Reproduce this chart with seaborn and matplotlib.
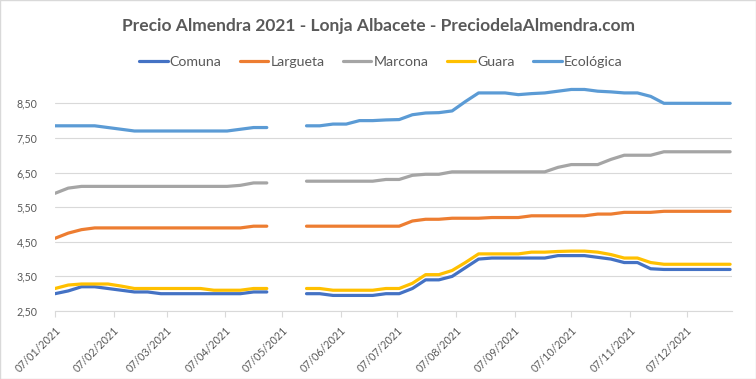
import matplotlib
matplotlib.use("Agg")
import matplotlib.dates as mdates
import matplotlib.pyplot as plt
import numpy as np
import pandas as pd
import seaborn as sns
from matplotlib.patches import Rectangle
from matplotlib.ticker import FuncFormatter

# weekly prices (Thursdays), 6 and 13 May have no quote
fechas = pd.date_range("2021-01-07", "2021-12-30", freq="7D")

comuna = [3.00, 3.08, 3.20, 3.20, 3.15, 3.10, 3.05, 3.05, 3.00, 3.00, 3.00, 3.00, 3.00, 3.00, 3.00, 3.05, 3.05,
          None, None,
          3.00, 3.00, 2.95, 2.95, 2.95, 2.95, 3.00, 3.00, 3.15, 3.40, 3.40, 3.50, 3.75, 4.00, 4.03, 4.03, 4.03,
          4.03, 4.03, 4.10, 4.10, 4.10, 4.05, 4.00, 3.90, 3.90, 3.72, 3.70, 3.70, 3.70, 3.70, 3.70, 3.70]
largueta = [4.60, 4.75, 4.85, 4.90, 4.90, 4.90, 4.90, 4.90, 4.90, 4.90, 4.90, 4.90, 4.90, 4.90, 4.90, 4.95, 4.95,
            None, None,
            4.95, 4.95, 4.95, 4.95, 4.95, 4.95, 4.95, 4.95, 5.10, 5.15, 5.15, 5.18, 5.18, 5.18, 5.20, 5.20, 5.20,
            5.25, 5.25, 5.25, 5.25, 5.25, 5.30, 5.30, 5.35, 5.35, 5.35, 5.38, 5.38, 5.38, 5.38, 5.38, 5.38]
marcona = [5.90, 6.05, 6.10, 6.10, 6.10, 6.10, 6.10, 6.10, 6.10, 6.10, 6.10, 6.10, 6.10, 6.10, 6.13, 6.20, 6.20,
           None, None,
           6.25, 6.25, 6.25, 6.25, 6.25, 6.25, 6.30, 6.30, 6.42, 6.45, 6.45, 6.52, 6.52, 6.52, 6.52, 6.52, 6.52,
           6.52, 6.52, 6.65, 6.73, 6.73, 6.73, 6.88, 7.00, 7.00, 7.00, 7.10, 7.10, 7.10, 7.10, 7.10, 7.10]
guara = [3.15, 3.25, 3.28, 3.28, 3.28, 3.22, 3.15, 3.15, 3.15, 3.15, 3.15, 3.15, 3.10, 3.10, 3.10, 3.15, 3.15,
         None, None,
         3.15, 3.15, 3.10, 3.10, 3.10, 3.10, 3.15, 3.15, 3.30, 3.55, 3.55, 3.67, 3.90, 4.15, 4.15, 4.15, 4.15,
         4.20, 4.20, 4.22, 4.23, 4.23, 4.20, 4.13, 4.03, 4.03, 3.90, 3.85, 3.85, 3.85, 3.85, 3.85, 3.85]
ecologica = [7.85, 7.85, 7.85, 7.85, 7.80, 7.75, 7.70, 7.70, 7.70, 7.70, 7.70, 7.70, 7.70, 7.70, 7.75, 7.80, 7.80,
             None, None,
             7.85, 7.85, 7.90, 7.90, 8.00, 8.00, 8.02, 8.03, 8.17, 8.22, 8.23, 8.28, 8.55, 8.80, 8.80, 8.80, 8.75,
             8.78, 8.80, 8.85, 8.90, 8.90, 8.85, 8.83, 8.80, 8.80, 8.70, 8.50, 8.50, 8.50, 8.50, 8.50, 8.50]

variedades = ["Comuna", "Largueta", "Marcona", "Guara", "Ecológica"]
colores = ["#4472C4", "#ED7D31", "#A5A5A5", "#FFC000", "#5B9BD5"]

wide = pd.DataFrame({"Fecha": fechas, "Comuna": comuna, "Largueta": largueta, "Marcona": marcona,
                     "Guara": guara, "Ecológica": ecologica})
df = wide.melt(id_vars="Fecha", var_name="Variedad", value_name="Precio")
df["Precio"] = df["Precio"].astype(float)
# split into two runs so the line breaks at the missing weeks
df["tramo"] = np.where(df["Fecha"] > pd.Timestamp("2021-05-01"), 1, 0)
df = df.dropna()

sns.set_style("white")
plt.rcParams["font.family"] = ["Lato", "DejaVu Sans"]

fig = plt.figure(figsize=(7.56, 3.79), dpi=100)
ax = fig.add_axes([55 / 756, 1 - 311 / 379, (732 - 55) / 756, (311 - 86) / 379])

sns.lineplot(data=df, x="Fecha", y="Precio", hue="Variedad", units="tramo", estimator=None,
             hue_order=variedades, palette=dict(zip(variedades, colores)),
             linewidth=2.3, ax=ax)

ax.set_ylim(2.5, 9.0)
ax.set_yticks(np.arange(2.5, 8.6, 1.0))
ax.yaxis.set_major_formatter(FuncFormatter(lambda v, p: f"{v:.2f}".replace(".", ",")))
ax.set_xlim(pd.Timestamp("2021-01-07"), pd.Timestamp("2021-12-31"))
ax.xaxis.set_major_locator(mdates.DayLocator(bymonthday=7))
ax.xaxis.set_major_formatter(mdates.DateFormatter("%d/%m/%Y"))

ax.grid(axis="y", color="#D9D9D9", linewidth=0.8)
ax.set_axisbelow(True)
for s in ["top", "right", "left"]:
    ax.spines[s].set_visible(False)
ax.spines["bottom"].set_color("#D9D9D9")
ax.spines["bottom"].set_linewidth(0.8)
ax.tick_params(axis="x", bottom=True, length=4, width=0.8, color="#D9D9D9", pad=6,
               labelsize=7.7, labelcolor="#595959")
ax.tick_params(axis="y", left=False, pad=9, labelsize=7.7, labelcolor="#595959")
for lbl in ax.get_xticklabels():
    lbl.set_rotation(45)
    lbl.set_ha("right")
    lbl.set_va("top")
    lbl.set_rotation_mode("anchor")
ax.set_xlabel("")
ax.set_ylabel("")

handles, labels = ax.get_legend_handles_labels()
ax.legend(handles, labels, loc="center", bbox_to_anchor=(381 / 756, 1 - 62 / 379),
          bbox_transform=fig.transFigure, ncol=5, frameon=False, fontsize=10.2,
          handlelength=2.0, handletextpad=0.15, columnspacing=1.3, labelcolor="#595959")

fig.text(378 / 756, 1 - 26 / 379, "Precio Almendra 2021 - Lonja Albacete - PreciodelaAlmendra.com",
         ha="center", va="center", fontsize=12.5, fontweight="bold", color="#595959")

fig.patches.append(Rectangle((0, 0), 1, 1, transform=fig.transFigure, fill=False,
                             edgecolor="#D9D9D9", linewidth=1.0))

fig.savefig("out.png", dpi=100)
